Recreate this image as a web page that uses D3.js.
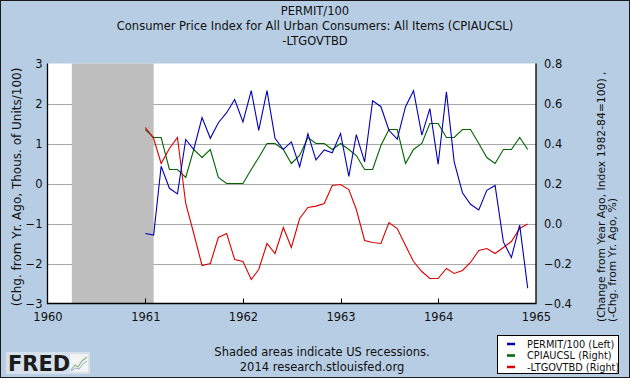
<!DOCTYPE html>
<html><head><meta charset="utf-8">
<script src="https://cdn.jsdelivr.net/npm/d3@7"></script>
<style>
html,body{margin:0;padding:0;background:#B6CDE4;}
svg{display:block;}
text{font-family:"DejaVu Sans",Verdana,sans-serif;}
</style></head>
<body>
<svg id="c" width="630" height="378"></svg>
<script>
const titleLines = ["PERMIT/100", "Consumer Price Index for All Urban Consumers: All Items (CPIAUCSL)", "-LTGOVTBD"];
const startMonth = "1961-01";
const permit = [-1.25,-1.29,0.43,-0.12,-0.26,1.10,0.85,1.65,1.13,1.52,1.77,2.10,1.54,2.32,1.33,2.32,1.13,0.85,1.04,0.42,
  1.24,0.59,0.84,0.77,1.25,0.18,1.22,0.54,2.07,1.92,1.33,1.11,1.92,2.32,1.21,1.87,0.48,2.29,0.54,-0.23,
  -0.52,-0.66,-0.17,-0.05,-1.46,-1.85,-1.04,-2.62];
const cpi = [0.47,0.43,0.43,0.27,0.27,0.23,0.37,0.33,0.37,0.23,0.20,0.20,0.20,0.27,0.33,0.40,0.40,0.37,0.30,0.34,
  0.43,0.40,0.40,0.37,0.40,0.37,0.34,0.27,0.27,0.39,0.47,0.47,0.30,0.37,0.40,0.50,0.50,0.43,0.43,0.47,
  0.47,0.40,0.33,0.30,0.37,0.37,0.43,0.37];
const ltgov = [0.48,0.425,0.30,0.375,0.43,0.10,-0.05,-0.21,-0.20,-0.07,-0.05,-0.18,-0.19,-0.28,-0.23,-0.10,-0.15,-0.02,-0.12,0.025,
  0.08,0.087,0.10,0.19,0.195,0.17,0.07,-0.085,-0.095,-0.10,0.005,-0.025,-0.11,-0.19,-0.24,-0.275,-0.275,-0.225,-0.25,-0.235,
  -0.195,-0.135,-0.125,-0.15,-0.12,-0.09,-0.025,-0.003];
const recessions = [["1960-04-01","1961-02-01"]];
const leftTicks = [-3,-2,-1,0,1,2,3];
const rightTicks = [-0.4,-0.2,0.0,0.2,0.4,0.6,0.8];
const yearTicks = [1960,1961,1962,1963,1964,1965];
const legendLabels = ["PERMIT/100 (Left)","CPIAUCSL (Right)","-LTGOVTBD (Right)"];
const colors = ["#0000BB","#006400","#DD0000"];

const svg = d3.select("#c");
const W = 630, H = 378;
const P = {l:47.5, r:536, t:63.5, b:303.5};
const parse = d3.timeParse("%Y-%m-%d");
const start = d3.timeParse("%Y-%m")(startMonth);
const dates = d3.range(permit.length).map(i => d3.timeMonth.offset(start, i));

const x = d3.scaleTime().domain([new Date(1960,0,1), new Date(1965,0,1)]).range([P.l, P.r]);
const yL = d3.scaleLinear().domain([-3,3]).range([P.b, P.t]);
const yR = d3.scaleLinear().domain([-0.4,0.8]).range([P.b, P.t]);

// background + border
svg.append("rect").attr("x",0.5).attr("y",0.5).attr("width",W-1).attr("height",H-1)
  .attr("fill","#B6CDE4").attr("stroke","#1a1a1a");

// titles
svg.selectAll("text.title").data(titleLines).enter().append("text")
  .attr("x", 315).attr("y",(d,i)=>15+i*15).attr("text-anchor","middle")
  .attr("font-size",11.5).attr("fill","#111").text(d=>d);

// plot bg
svg.append("rect").attr("x",P.l).attr("y",P.t).attr("width",P.r-P.l).attr("height",P.b-P.t).attr("fill","#fff");

// gridlines
svg.selectAll("line.grid").data(leftTicks.filter(v=>v>-3 && v<3)).enter().append("line")
  .attr("x1",P.l).attr("x2",P.r).attr("y1",d=>Math.round(yL(d))+0.5).attr("y2",d=>Math.round(yL(d))+0.5)
  .attr("stroke","#A8A8A8").attr("stroke-width",1);

// recessions (drawn over gridlines)
svg.selectAll("rect.rec").data(recessions).enter().append("rect")
  .attr("x",d=>x(parse(d[0]))).attr("y",P.t)
  .attr("width",d=>x(parse(d[1]))-x(parse(d[0]))).attr("height",P.b-P.t)
  .attr("fill","#BEBEBE");

// axes
const gL = svg.append("g").attr("transform",`translate(${P.l},0)`)
  .call(d3.axisLeft(yL).tickValues(leftTicks).tickSize(0).tickPadding(5).tickFormat(d3.format("d")));
gL.select(".domain").remove();
const gR = svg.append("g").attr("transform",`translate(${P.r},0)`)
  .call(d3.axisRight(yR).tickValues(rightTicks).tickSize(0).tickPadding(8).tickFormat(d3.format(".1f")));
gR.select(".domain").remove();
const gX = svg.append("g").attr("transform",`translate(0,${P.b})`)
  .call(d3.axisBottom(x).tickValues(yearTicks.map(y=>new Date(y,0,1))).tickSize(0).tickPadding(9).tickFormat(d3.timeFormat("%Y")));
gX.select(".domain").remove();
svg.selectAll("g.tick text").attr("font-size",11.5).attr("fill","#111").attr("font-family","DejaVu Sans, Verdana, sans-serif");
// x tick marks (inside)
svg.selectAll("line.xt").data(yearTicks.slice(1,5)).enter().append("line")
  .attr("x1",d=>Math.round(x(new Date(d,0,1)))+0.5).attr("x2",d=>Math.round(x(new Date(d,0,1)))+0.5)
  .attr("y1",P.b).attr("y2",P.b-5).attr("stroke","#000");

// lines
const lineL = d3.line().x((d,i)=>x(dates[i])).y(d=>yL(d));
const lineR = d3.line().x((d,i)=>x(dates[i])).y(d=>yR(d));
svg.append("path").datum(cpi).attr("d",lineR).attr("fill","none").attr("stroke",colors[1]).attr("stroke-width",1.1);
svg.append("path").datum(ltgov).attr("d",lineR).attr("fill","none").attr("stroke",colors[2]).attr("stroke-width",1.1);
svg.append("path").datum(permit).attr("d",lineL).attr("fill","none").attr("stroke",colors[0]).attr("stroke-width",1.1);

// frame
svg.append("path").attr("d",`M${P.l},${P.t}V${P.b}H${P.r}V${P.t}`).attr("fill","none").attr("stroke","#000").attr("stroke-width",1.3);

// axis titles
svg.append("text").attr("transform",`translate(21,187) rotate(-90)`).attr("text-anchor","middle")
  .attr("font-size",12).attr("fill","#111").text("(Chg. from Yr. Ago, Thous. of Units/100)");
svg.append("text").attr("transform",`translate(605,322) rotate(-90)`).attr("text-anchor","start")
  .attr("font-size",10.8).attr("fill","#111").text("(Change from Year Ago, Index 1982-84=100) ,");
svg.append("text").attr("transform",`translate(616,322) rotate(-90)`).attr("text-anchor","start")
  .attr("font-size",10.8).attr("fill","#111").text("(-Chg. from Yr. Ago, %)");

// footnote
svg.append("text").attr("x",322).attr("y",356).attr("text-anchor","middle").attr("font-size",11.5).attr("fill","#111").text("Shaded areas indicate US recessions.");
svg.append("text").attr("x",322).attr("y",371).attr("text-anchor","middle").attr("font-size",11.5).attr("fill","#111").text("2014 research.stlouisfed.org");

// FRED logo
svg.append("rect").attr("x",6).attr("y",352).attr("width",84).attr("height",22).attr("fill","#D6E1EC");
svg.append("text").attr("x",8).attr("y",371).attr("font-size",21).attr("font-weight","bold")
  .attr("font-family","Liberation Sans, Arial, sans-serif").attr("fill","#1c1c1c").text("FRED");
svg.append("rect").attr("x",70).attr("y",354).attr("width",18).attr("height",18).attr("fill","#f3f3f3");
svg.append("path").attr("d","M71,370 L75,365 L78,367 L82,361 L87,357").attr("fill","none").attr("stroke","#8cb88c").attr("stroke-width",1.2);
svg.append("path").attr("d","M71,371 L76,368 L79,369 L83,364 L87,361").attr("fill","none").attr("stroke","#9aaacc").attr("stroke-width",1);

// legend
const lg = svg.append("g");
lg.append("rect").attr("x",497.5).attr("y",335.5).attr("width",121).attr("height",38).attr("fill","#fff").attr("stroke","#000");
legendLabels.forEach((t,i)=>{
  const yy = 344 + i*11.5;
  lg.append("line").attr("x1",507).attr("x2",515).attr("y1",yy).attr("y2",yy).attr("stroke",colors[i]).attr("stroke-width",2.5);
  lg.append("text").attr("x",527).attr("y",yy+3.5).attr("font-size",9.8).attr("fill","#111").text(t);
});
</script>
</body></html>
